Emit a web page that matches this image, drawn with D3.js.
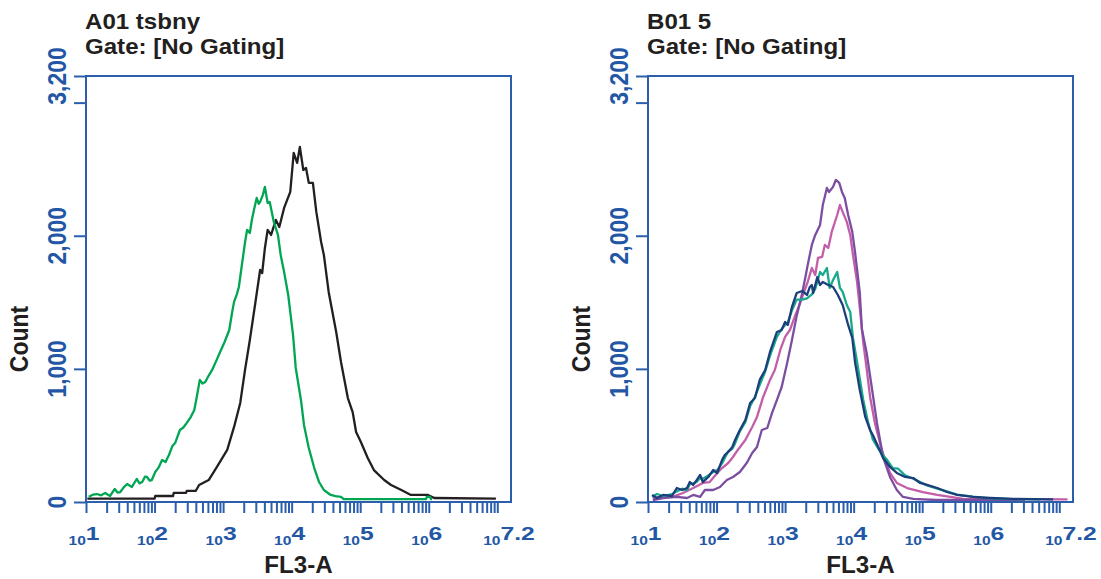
<!DOCTYPE html>
<html>
<head>
<meta charset="utf-8">
<script src="https://cdnjs.cloudflare.com/ajax/libs/d3/7.8.5/d3.min.js"></script>
<style>
body { margin: 0; background: #fff; }
svg text { font-family: "Liberation Sans", Arial, sans-serif; }
</style>
</head>
<body>
<script>
// histogram traces, [log10(FL3-A), count]
var greenA = [
	[1.04,40],[1.10,55],[1.16,60],[1.22,50],[1.28,68],[1.35,45],[1.42,98],[1.46,70],[1.50,75],[1.55,110],
	[1.60,135],[1.67,113],[1.74,173],[1.78,140],[1.82,150],[1.86,190],[1.89,188],[1.93,160],[1.96,165],
	[2.01,225],[2.06,260],[2.11,315],[2.16,300],[2.21,353],[2.26,420],[2.30,443],[2.37,541],[2.42,560],
	[2.47,594],[2.53,640],[2.58,691],[2.62,800],[2.66,917],[2.70,890],[2.74,902],[2.79,950],[2.84,992],
	[2.90,1060],[2.95,1119],[3.02,1200],[3.09,1292],[3.13,1420],[3.16,1503],[3.20,1560],[3.23,1615],
	[3.28,1803],[3.32,1950],[3.35,2044],[3.39,2021],[3.42,2120],[3.45,2194],[3.49,2284],[3.52,2240],
	[3.54,2254],[3.58,2307],[3.61,2367],[3.65,2246],[3.68,2254],[3.74,2104],[3.80,2006],[3.84,1856],
	[3.89,1728],[3.95,1555],[4.02,1255],[4.06,1007],[4.14,751],[4.18,579],[4.25,406],[4.33,255],
	[4.40,150],[4.47,90],[4.57,53],[4.64,45],[4.72,38],[4.76,22],[5.96,22],[5.97,38],[6.02,38],
	[6.03,22],[6.05,22]
];
var blackA = [
	[1.02,25],[2.00,25],[2.01,45],[2.27,45],[2.28,68],[2.46,68],[2.47,83],[2.60,83],[2.65,128],[2.79,165],
	[2.91,263],[3.06,391],[3.16,564],[3.25,744],[3.32,992],[3.39,1217],[3.47,1495],[3.54,1743],[3.57,1720],
	[3.61,1908],[3.65,2044],[3.70,2006],[3.77,2119],[3.82,2066],[3.89,2209],[3.98,2329],[4.03,2622],
	[4.08,2547],[4.12,2667],[4.17,2494],[4.21,2509],[4.25,2397],[4.31,2397],[4.36,2179],[4.43,1953],
	[4.47,1856],[4.54,1578],[4.65,1277],[4.72,1052],[4.82,781],[4.89,676],[4.94,526],[5.01,451],
	[5.11,331],[5.20,240],[5.35,165],[5.45,128],[5.60,90],[5.74,53],[5.99,53],[6.08,30],[6.98,25]
];
var pinkB = [
	[1.07,30],[1.22,38],[1.36,38],[1.51,68],[1.66,105],[1.80,143],[1.90,150],[2.01,218],[2.08,255],
	[2.17,293],[2.24,338],[2.31,391],[2.42,466],[2.52,564],[2.59,639],[2.68,789],[2.78,917],[2.85,992],
	[2.93,1142],[3.00,1240],[3.07,1292],[3.14,1390],[3.22,1495],[3.33,1653],[3.39,1758],[3.44,1705],
	[3.48,1833],[3.54,1841],[3.58,1931],[3.63,1908],[3.68,2029],[3.76,2156],[3.80,2231],[3.84,2179],
	[3.90,2104],[3.95,2006],[3.99,1856],[4.05,1653],[4.09,1458],[4.14,1200],[4.19,1000],[4.24,789],
	[4.31,594],[4.41,391],[4.53,218],[4.63,143],[4.78,105],[5.01,75],[5.22,53],[5.41,38],[5.60,23],
	[7.12,20]
];
var purpleB = [
	[1.07,15],[1.22,30],[1.42,38],[1.57,30],[1.66,53],[1.76,38],[1.83,90],[1.95,90],[2.05,113],[2.15,165],
	[2.24,188],[2.34,225],[2.44,293],[2.52,368],[2.59,413],[2.66,541],[2.74,556],[2.81,669],[2.88,766],
	[2.95,864],[3.03,1044],[3.10,1217],[3.17,1400],[3.25,1570],[3.30,1700],[3.33,1781],[3.39,1931],
	[3.44,2006],[3.51,2081],[3.55,2231],[3.61,2359],[3.64,2329],[3.70,2367],[3.74,2419],[3.79,2397],
	[3.83,2329],[3.87,2284],[3.92,2156],[3.98,2029],[4.02,1878],[4.09,1570],[4.12,1300],[4.19,1119],
	[4.27,841],[4.34,594],[4.43,338],[4.53,188],[4.63,90],[4.72,38],[4.87,23],[5.20,15],[6.50,15]
];
var tealB = [
	[1.06,40],[1.13,60],[1.22,45],[1.35,60],[1.42,80],[1.50,100],[1.57,90],[1.61,135],[1.66,140],[1.71,150],
	[1.76,180],[1.80,175],[1.88,200],[1.95,225],[2.01,240],[2.08,290],[2.12,330],[2.17,380],[2.23,400],
	[2.27,440],[2.34,530],[2.42,600],[2.49,720],[2.56,790],[2.63,880],[2.71,980],[2.78,1100],[2.88,1240],
	[2.95,1300],[3.00,1330],[3.04,1350],[3.10,1440],[3.17,1520],[3.25,1520],[3.32,1530],[3.39,1560],
	[3.44,1600],[3.51,1728],[3.55,1705],[3.61,1758],[3.65,1608],[3.70,1668],[3.76,1728],[3.80,1608],
	[3.84,1578],[3.90,1480],[3.95,1428],[3.99,1232],[4.05,1052],[4.14,766],[4.21,600],[4.28,470],
	[4.36,400],[4.43,350],[4.49,315],[4.57,255],[4.65,250],[4.75,200],[4.87,175],[4.97,150],[5.07,125],
	[5.22,100],[5.36,80],[5.51,55],[5.74,40],[5.99,28],[6.32,22],[6.72,20]
];
var navyB = [
	[1.06,53],[1.13,30],[1.22,53],[1.35,45],[1.42,105],[1.50,90],[1.57,105],[1.61,150],[1.66,128],[1.71,165],
	[1.76,203],[1.80,150],[1.88,188],[1.95,240],[2.01,218],[2.08,315],[2.12,353],[2.17,376],[2.23,413],
	[2.27,466],[2.34,541],[2.42,616],[2.49,744],[2.56,781],[2.63,917],[2.71,992],[2.78,1127],[2.88,1277],
	[2.95,1292],[3.00,1352],[3.04,1330],[3.10,1465],[3.17,1570],[3.25,1585],[3.32,1555],[3.36,1615],
	[3.39,1630],[3.41,1570],[3.47,1690],[3.51,1630],[3.55,1653],[3.63,1630],[3.70,1615],[3.77,1555],
	[3.84,1480],[3.92,1330],[3.98,1232],[4.02,1052],[4.09,841],[4.17,639],[4.24,541],[4.28,503],
	[4.36,413],[4.43,331],[4.53,263],[4.63,218],[4.75,188],[4.87,180],[4.97,143],[5.07,128],[5.22,105],
	[5.36,75],[5.51,53],[5.74,38],[5.99,30],[6.32,23],[6.91,20]
];

var titles = ["A01 tsbny", "B01 5"];
var gateText = "Gate: [No Gating]";
var yTicks = [0, 1000, 2000, 3000, 3200];
var yLabels = ["0", "1,000", "2,000", "", "3,200"];
var xDecades = [1, 2, 3, 4, 5, 6, 7.2];
var xLabel = "FL3-A", yLabel = "Count";

var width = 1101, height = 579,
	plotW = 425,
	plotTop = 76, plotBottom = 502,
	axisBlue = "#2b5fad", labelBlue = "#2357a5";

var panels = [
	{ left: 86, title: titles[0], series: [
		{ data: blackA, color: "#231f20" },
		{ data: greenA, color: "#00a651" }
	]},
	{ left: 648, title: titles[1], series: [
		{ data: pinkB, color: "#c35ea9" },
		{ data: purpleB, color: "#7b4ea2" },
		{ data: tealB, color: "#17a98b" },
		{ data: navyB, color: "#1c3f7c" }
	]}
];

var svg = d3.select("body").append("svg")
	.attr("width", width)
	.attr("height", height);

var x = d3.scaleLog()
	.domain([10, Math.pow(10, 7.2)])
	.range([0, plotW]);

var y = d3.scaleLinear()
	.domain([0, 3200])
	.range([plotBottom, plotTop]);

// minor + major tick positions of the log axis
var xTickVals = [];
for (var k = 1; k <= 7; k++) {
	for (var m = 1; m <= 9; m++) {
		var v = m * Math.pow(10, k);
		if (v <= Math.pow(10, 7.2)) xTickVals.push(v);
	}
}

var line = d3.line()
	.x(function (d) { return x(Math.pow(10, d[0])); })
	.y(function (d) { return y(d[1]); });

panels.forEach(function (p) {
	var g = svg.append("g").attr("transform", "translate(" + p.left + ",0)");

	/**************** titles ****************/
	g.append("text")
		.attr("transform", "translate(-1,29) scale(1.07,1)")
		.style("font-size", "22.5px")
		.style("font-weight", "bold")
		.attr("fill", "#231f20")
		.text(p.title);
	g.append("text")
		.attr("transform", "translate(-1,54) scale(1.07,1)")
		.style("font-size", "22.5px")
		.style("font-weight", "bold")
		.attr("fill", "#231f20")
		.text(gateText);

	/**************** traces ****************/
	g.selectAll(".trace")
		.data(p.series)
		.enter()
		.append("path")
		.attr("class", "trace")
		.attr("d", function (s) { return line(s.data); })
		.attr("fill", "none")
		.attr("stroke", function (s) { return s.color; })
		.attr("stroke-width", 2.3)
		.attr("stroke-linejoin", "round");

	/**************** frame + axes ****************/
	g.append("rect")
		.attr("x", 0)
		.attr("y", plotTop)
		.attr("width", plotW)
		.attr("height", plotBottom - plotTop)
		.attr("fill", "none")
		.attr("stroke", axisBlue)
		.attr("stroke-width", 2);

	var xAxis = g.append("g")
		.attr("transform", "translate(0," + plotBottom + ")")
		.call(d3.axisBottom(x).tickValues(xTickVals).tickFormat("").tickSize(11).tickSizeOuter(0));
	var yAxis = g.append("g")
		.call(d3.axisLeft(y).tickValues(yTicks).tickFormat("").tickSize(12).tickSizeOuter(0));
	[xAxis, yAxis].forEach(function (a) {
		a.select(".domain").remove();
		a.selectAll("line").attr("stroke", axisBlue).attr("stroke-width", 2);
	});

	// y tick labels, rotated
	g.selectAll(".ylab")
		.data(yTicks)
		.enter()
		.append("text")
		.attr("class", "ylab")
		.attr("transform", function (d) { return "translate(-20," + y(d) + ") rotate(-90) scale(1,1.12)"; })
		.attr("text-anchor", "middle")
		.style("font-size", "23px")
		.style("font-weight", "bold")
		.attr("fill", labelBlue)
		.text(function (d, i) { return yLabels[i]; });

	// x tick labels: small "10" with a large exponent
	var xl = g.selectAll(".xlab")
		.data(xDecades)
		.enter()
		.append("text")
		.attr("class", "xlab")
		.attr("transform", function (d) { return "translate(" + (x(Math.pow(10, d)) - 2) + ",545) scale(1.3,1)"; })
		.attr("text-anchor", "middle")
		.style("font-weight", "bold")
		.attr("fill", labelBlue);
	xl.append("tspan").style("font-size", "12px").text("10");
	xl.append("tspan").style("font-size", "19px").attr("dy", -5).text(function (d) { return String(d); });

	// axis titles
	g.append("text")
		.attr("transform", "translate(" + (plotW / 2) + ",573) scale(1.05,1)")
		.attr("text-anchor", "middle")
		.style("font-size", "23px")
		.style("font-weight", "bold")
		.attr("fill", "#231f20")
		.text(xLabel);
	g.append("text")
		.attr("transform", "translate(-58,339) rotate(-90) scale(1,1.15)")
		.attr("text-anchor", "middle")
		.style("font-size", "23px")
		.style("font-weight", "bold")
		.attr("fill", "#231f20")
		.text(yLabel);
});
</script>
</body>
</html>
